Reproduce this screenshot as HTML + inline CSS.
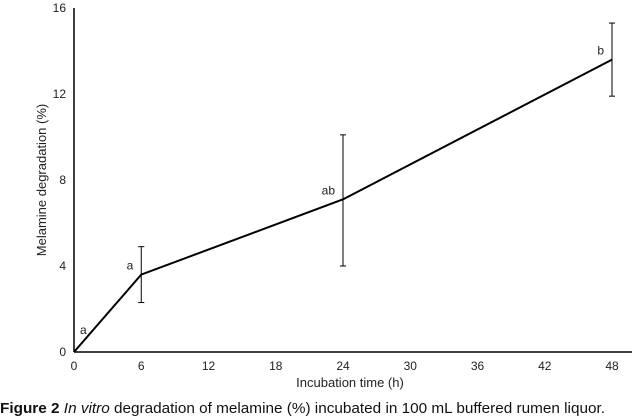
<!DOCTYPE html>
<html><head><meta charset="utf-8"><style>
body{margin:0;background:#fff;}
svg{display:block;font-family:"Liberation Sans",sans-serif;}
</style></head><body>
<svg id="chart" width="635" height="420">
<g id="axes"></g><g id="marks"></g>
<text x="350" y="387" font-size="13" text-anchor="middle" fill="#222">Incubation time (h)</text>
<text transform="translate(46,180) rotate(-90)" font-size="13" text-anchor="middle" fill="#222">Melamine degradation (%)</text>
<text x="0" y="413" font-size="15" fill="#111" textLength="605" lengthAdjust="spacingAndGlyphs"><tspan font-weight="bold">Figure 2</tspan> <tspan font-style="italic">In vitro</tspan> degradation of melamine (%) incubated in 100 mL buffered rumen liquor.</text>
</svg>
<script>
const times=[0,6,24,48];
const values=[0,3.6,7.1,13.6];
const errLow=[0,2.3,4.0,11.9];
const errHigh=[0,4.9,10.1,15.3];
const letters=["a","a","ab","b"];
const xTicks=[0,6,12,18,24,30,36,42,48];
const yTicks=[0,4,8,12,16];
const NS="http://www.w3.org/2000/svg";
const x=v=>74+v*(612-74)/48;
const y=v=>352-v*(352-8)/16;
function mk(tag,attrs,parent,text){const e=document.createElementNS(NS,tag);for(const k in attrs)e.setAttribute(k,attrs[k]);if(text!==undefined)e.textContent=text;parent.appendChild(e);return e;}
const axes=document.getElementById('axes'),marks=document.getElementById('marks');
let e=mk('line',{x1:74,y1:y(16),x2:74,y2:y(0),stroke:'#000','stroke-width':1.5},axes);


e=mk('line',{x1:74,y1:y(0),x2:632,y2:y(0),stroke:'#000','stroke-width':1.5},axes);


xTicks.forEach(t=>{const l=mk('text',{x:x(t),y:y(0)+18,'font-size':12,'text-anchor':'middle',fill:'#222'},axes,String(t));

});
yTicks.forEach(t=>{const l=mk('text',{x:66,y:y(t)+4,'font-size':12,'text-anchor':'end',fill:'#222'},axes,String(t));

});
const pts=times.map((t,i)=>x(t)+','+y(values[i])).join(' ');
e=mk('polyline',{points:pts,fill:'none',stroke:'#000','stroke-width':2},marks);


times.forEach((t,i)=>{
 if(errHigh[i]>errLow[i]){
  const cx=x(t);
  const g=mk('g',{stroke:'#000','stroke-width':1},marks);
  
  
  mk('line',{x1:cx,y1:y(errHigh[i]),x2:cx,y2:y(errLow[i])},g);
  mk('line',{x1:cx-3,y1:y(errHigh[i]),x2:cx+3,y2:y(errHigh[i])},g);
  mk('line',{x1:cx-3,y1:y(errLow[i]),x2:cx+3,y2:y(errLow[i])},g);
 }
 const lx=i===0?x(t)+6:x(t)-8, ly=i===0?y(values[i])-18:y(values[i])-5;
 const l=mk('text',{x:lx,y:ly,'font-size':12,'text-anchor':i===0?'start':'end',fill:'#222'},marks,letters[i]);
 
 
});
</script>
</body></html>
